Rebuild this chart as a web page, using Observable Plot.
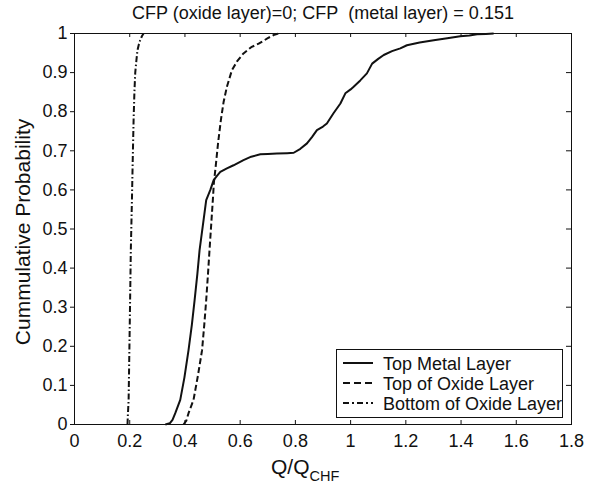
<!DOCTYPE html>
<html>
<head>
<meta charset="utf-8">
<script src="https://cdn.jsdelivr.net/npm/d3@7"></script>
<script src="https://cdn.jsdelivr.net/npm/@observablehq/plot@0.6"></script>
<style>
  html, body { margin: 0; padding: 0; background: #fff; }
  #chart { position: relative; width: 590px; height: 484px; }
</style>
</head>
<body>
<div id="chart"></div>
<script>
// Cumulative probability of Q/Q_CHF at three locations of the heater
const titleText = "CFP (oxide layer)=0; CFP\u00a0 (metal layer) = 0.151";
const yLabelText = "Cummulative Probability";

const xTicks = [0, 0.2, 0.4, 0.6, 0.8, 1, 1.2, 1.4, 1.6, 1.8];
const xTickLabels = ["0", "0.2", "0.4", "0.6", "0.8", "1", "1.2", "1.4", "1.6", "1.8"];
const yTicks = [0, 0.1, 0.2, 0.3, 0.4, 0.5, 0.6, 0.7, 0.8, 0.9, 1];
const yTickLabels = ["0", "0.1", "0.2", "0.3", "0.4", "0.5", "0.6", "0.7", "0.8", "0.9", "1"];

const seriesNames = ["Top Metal Layer", "Top of Oxide Layer", "Bottom of Oxide Layer"];

// Top Metal Layer
const metalX = [0.329, 0.345, 0.355, 0.365, 0.383, 0.398, 0.413, 0.425, 0.435, 0.445, 0.453, 0.465, 0.477, 0.492, 0.504, 0.516, 0.528, 0.552, 0.576, 0.612, 0.640, 0.673, 0.700, 0.733, 0.770, 0.794, 0.818, 0.842, 0.860, 0.878, 0.900, 0.914, 0.938, 0.963, 0.981, 1.000, 1.011, 1.035, 1.059, 1.078, 1.100, 1.120, 1.150, 1.180, 1.204, 1.250, 1.301, 1.350, 1.397, 1.430, 1.458, 1.490, 1.518];
const metalY = [0, 0.003, 0.012, 0.029, 0.063, 0.120, 0.190, 0.255, 0.318, 0.385, 0.446, 0.510, 0.574, 0.600, 0.625, 0.636, 0.646, 0.655, 0.663, 0.676, 0.685, 0.691, 0.692, 0.693, 0.694, 0.695, 0.705, 0.719, 0.735, 0.753, 0.762, 0.770, 0.796, 0.821, 0.847, 0.857, 0.864, 0.880, 0.898, 0.923, 0.935, 0.945, 0.955, 0.962, 0.970, 0.977, 0.983, 0.988, 0.993, 0.995, 0.998, 0.999, 1.0];

// Top of Oxide Layer
const oxideTopX = [0.395, 0.405, 0.413, 0.431, 0.447, 0.462, 0.470, 0.477, 0.483, 0.489, 0.495, 0.501, 0.505, 0.510, 0.520, 0.530, 0.540, 0.552, 0.570, 0.590, 0.612, 0.640, 0.667, 0.700, 0.721, 0.739];
const oxideTopY = [0, 0.010, 0.029, 0.063, 0.125, 0.190, 0.255, 0.318, 0.380, 0.446, 0.510, 0.574, 0.620, 0.651, 0.720, 0.778, 0.825, 0.864, 0.906, 0.930, 0.949, 0.965, 0.974, 0.988, 0.996, 1.0];

// Bottom of Oxide Layer
const oxideBottomX = [0.192, 0.193, 0.196, 0.200, 0.204, 0.208, 0.211, 0.214, 0.217, 0.220, 0.224, 0.228, 0.233, 0.238, 0.244, 0.250];
const oxideBottomY = [0, 0.020, 0.063, 0.250, 0.446, 0.574, 0.680, 0.778, 0.850, 0.900, 0.930, 0.957, 0.972, 0.983, 0.993, 1.0];

const toPoints = (xs, ys) => xs.map((x, i) => ({x, y: ys[i]}));
const metal = toPoints(metalX, metalY);
const oxideTop = toPoints(oxideTopX, oxideTopY);
const oxideBottom = toPoints(oxideBottomX, oxideBottomY);

const dashes = [null, "6,3", "6,2.5,1.5,2.5"];
const font = "'Liberation Sans', Arial, Helvetica, sans-serif";
const ink = "#111";
const xLabelMap = new Map(xTicks.map((t, i) => [t, xTickLabels[i]]));
const yLabelMap = new Map(yTicks.map((t, i) => [t, yTickLabels[i]]));

const W = 590, H = 484, mt = 33, mr = 19, mb = 60, ml = 74;
const frameW = W - ml - mr, frameH = H - mt - mb;

const lineOpts = (dash) => ({
  x: "x", y: "y", stroke: ink, strokeWidth: 2,
  strokeLinecap: "butt", strokeLinejoin: "round",
  strokeDasharray: dash ?? undefined
});

const chart = Plot.plot({
  width: W, height: H,
  marginTop: mt, marginRight: mr, marginBottom: mb, marginLeft: ml,
  style: {fontFamily: font, fontSize: "18px", color: ink, background: "#fff"},
  x: {domain: [0, 1.8]},
  y: {domain: [0, 1]},
  marks: [
    Plot.frame({stroke: ink, strokeWidth: 1}),
    // inward ticks on bottom, top and right edges
    Plot.tickX(xTicks, {x: d => d, insetTop: frameH - 4, stroke: ink}),
    Plot.tickX(xTicks, {x: d => d, insetBottom: frameH - 4, stroke: ink}),
    Plot.tickY(yTicks, {y: d => d, insetLeft: frameW - 5, stroke: ink}),
    Plot.axisX(xTicks, {tickSize: 0, tickPadding: 10, fontSize: 18, label: null, tickFormat: d => xLabelMap.get(d)}),
    Plot.axisY(yTicks, {tickSize: 4, tickPadding: 3, fontSize: 18, label: null, stroke: ink, tickFormat: d => yLabelMap.get(d)}),
    Plot.line(metal, lineOpts(dashes[0])),
    Plot.line(oxideTop, lineOpts(dashes[1])),
    Plot.line(oxideBottom, lineOpts(dashes[2])),
    Plot.text([titleText], {frameAnchor: "top", lineAnchor: "bottom", dy: -14.7, fontSize: 18, fill: ink}),
    Plot.text([yLabelText], {frameAnchor: "left", textAnchor: "middle", lineAnchor: "middle", rotate: -90, dx: -51, dy: 3, fontSize: 21, fill: ink})
  ]
});

document.getElementById("chart").appendChild(chart);

const svg = d3.select(chart);

// x-axis label with subscript
const xl = svg.append("text")
  .attr("x", 271).attr("y", 474)
  .attr("text-anchor", "start")
  .attr("font-family", font).attr("fill", ink);
xl.append("tspan").attr("font-size", 21).text("Q/Q");
xl.append("tspan").attr("font-size", 14.5).attr("dy", 7).text("CHF");

// legend
const lg = svg.append("g")
  .attr("font-family", font).attr("font-size", 18).attr("fill", ink)
  .attr("text-anchor", "start");
lg.append("rect")
  .attr("x", 336.5).attr("y", 349.5).attr("width", 226).attr("height", 68)
  .attr("fill", "#fff").attr("stroke", ink).attr("stroke-width", 1);
seriesNames.forEach((name, i) => {
  const cy = 363 + i * 20;
  lg.append("line")
    .attr("x1", 343).attr("x2", 373).attr("y1", cy).attr("y2", cy)
    .attr("stroke", ink).attr("stroke-width", 2)
    .attr("stroke-dasharray", i === 1 ? "7,4" : i === 2 ? "6,3,2,3" : null);
  lg.append("text").attr("x", 383).attr("y", cy + 6.5).text(name);
});
</script>
</body>
</html>
